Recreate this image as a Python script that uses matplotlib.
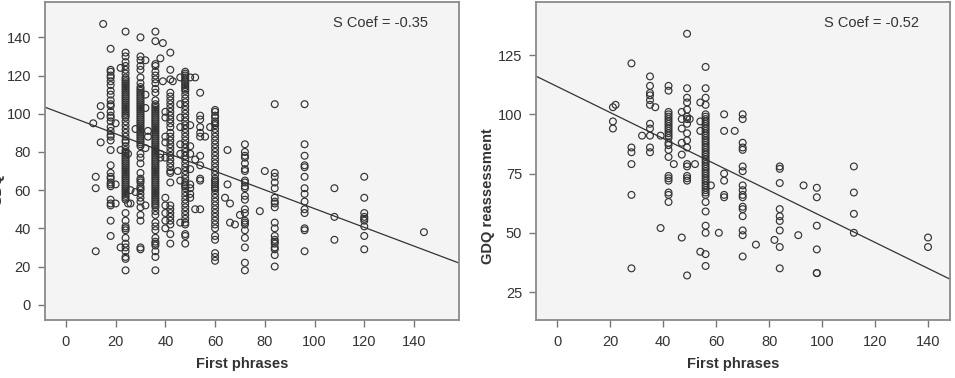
import matplotlib
matplotlib.use("Agg")
import matplotlib.pyplot as plt

plt.rcParams['font.family'] = ['Liberation Sans', 'DejaVu Sans']

# ---------------- Left panel data: GDQ vs First phrases ----------------
L11 = [95]
L12 = [67, 61, 28]
L14 = [99, 104, 85]
L15 = [147]
L18 = [134, 123, 122, 120, 119, 117, 115, 112, 110, 107, 105, 104, 101, 99, 98, 96, 93, 91,
       89, 88, 86, 81, 73, 69, 67, 66, 64, 63, 62, 55, 53, 52, 44, 36]
L20 = [95, 63, 53]
L22 = [124, 81, 30]
L24 = [143, 132, 130, 127, 125, 123, 121, 119, 118, 117, 116, 115, 114, 113, 112, 111, 110, 109,
       108, 107, 106, 105, 104, 103, 102, 101, 100, 99, 98, 96, 94, 92, 90, 88, 86, 85, 83, 81,
       80, 79, 78, 77, 76, 75, 74, 73, 72, 71, 70, 69, 68, 67, 66, 65, 64, 63, 62, 61, 60, 59,
       58, 57, 56, 55, 48, 44, 41, 40, 39, 35, 32, 30, 28, 25, 24, 18]
L25 = [79, 53]
L26 = [60, 53]
L28 = [92, 59]
L30 = [140, 130, 128, 125, 123, 119, 116, 114, 113, 112, 111, 110, 109, 108, 107, 106, 105, 104,
       103, 102, 101, 100, 99, 98, 97, 96, 95, 94, 93, 92, 91, 90, 89, 88, 87, 86, 85, 84, 83,
       79, 77, 74, 69, 66, 65, 64, 62, 61, 60, 58, 56, 54, 51, 47, 44, 30, 29]
L32 = [128, 110, 103, 82, 52]
L33 = [91, 88]
L36 = [143, 138, 126, 125, 122, 120, 118, 116, 113, 111, 107, 105, 104, 103, 102, 101, 100, 99,
       98, 97, 96, 95, 94, 93, 92, 91, 90, 89, 88, 87, 86, 85, 84, 83, 82, 81, 80, 79, 78, 77,
       76, 75, 74, 73, 72, 71, 70, 69, 68, 67, 66, 65, 64, 63, 62, 61, 60, 59, 58, 57, 56, 55,
       54, 53, 52, 51, 49, 47, 43, 41, 39, 35, 33, 32, 31, 28, 25, 18]
L38 = [129, 79, 77]
L39 = [137, 117]
L40 = [101, 98, 88, 85, 77, 56, 52, 48, 44, 40]
L42 = [132, 123, 118, 111, 109, 107, 105, 103, 101, 99, 97, 95, 93, 90, 88, 86, 84, 82, 80, 78,
       76, 74, 72, 70, 69, 64, 52, 50, 48, 46, 44, 42, 37, 32]
L43 = [117]
L45 = [70]
L46 = [119, 105, 98, 93, 84, 79, 65, 43]
L48 = [122, 121, 120, 119, 118, 117, 116, 115, 114, 113, 112, 110, 108, 106, 104, 102, 100, 98,
       96, 94, 92, 90, 88, 86, 84, 82, 80, 78, 76, 74, 72, 70, 68, 66, 64, 63, 62, 61, 59, 57,
       55, 53, 51, 49, 47, 45, 43, 42, 37, 36, 32]
L50 = [119, 94, 83, 79, 71, 63, 61, 58, 56]
L52 = [119, 76, 50]
L54 = [111, 99, 97, 93, 90, 88, 78, 73, 66, 65, 50]
L56 = [88]
L58 = [93]
L60 = [102, 101, 99, 98, 96, 95, 94, 92, 90, 88, 86, 84, 82, 80, 78, 76, 74, 72, 70, 68, 66,
       65, 64, 63, 62, 61, 60, 58, 56, 54, 52, 50, 48, 46, 44, 42, 40, 36, 34, 27, 25, 23]
L64 = [56]
L65 = [81, 63]
L66 = [53, 43]
L68 = [42]
L70 = [47]
L72 = [84, 80, 78, 77, 74, 71, 70, 65, 64, 62, 61, 57, 55, 50, 48, 44, 43, 42, 39, 35, 30, 22, 18]
L78 = [49]
L80 = [70]
L84 = [105, 69, 67, 64, 61, 56, 54, 53, 51, 43, 40, 36, 34, 33, 32, 30, 29, 26, 20]
L96 = [105, 84, 78, 73, 72, 67, 61, 58, 54, 50, 48, 40, 39, 28]
L108 = [61, 46, 34]
L120 = [67, 56, 48, 46, 45, 44, 41, 36, 29]
L144 = [38]

left_columns = [(11, L11), (12, L12), (14, L14), (15, L15), (18, L18), (20, L20), (22, L22),
                (24, L24), (25, L25), (26, L26), (28, L28), (30, L30), (32, L32), (33, L33),
                (36, L36), (38, L38), (39, L39), (40, L40), (42, L42), (43, L43), (45, L45),
                (46, L46), (48, L48), (50, L50), (52, L52), (54, L54), (56, L56), (58, L58),
                (60, L60), (64, L64), (65, L65), (66, L66), (68, L68), (70, L70), (72, L72),
                (78, L78), (80, L80), (84, L84), (96, L96), (108, L108), (120, L120), (144, L144)]

left_fit_intercept = 99.3
left_fit_slope = -0.49
left_coef_text = "S Coef = -0.35"

# ---------------- Right panel data: GDQ reassessment vs First phrases ----------------
R21 = [103, 97, 94]
R22 = [104]
R28 = [121.5, 86, 84, 79, 66, 35]
R32 = [91]
R35 = [116, 112, 109, 108, 106, 104, 96, 94, 91, 86, 84]
R37 = [103]
R39 = [91, 52]
R42 = [112, 110, 101, 100, 99, 98, 97, 96, 95, 94, 93, 92, 91, 90, 88, 87, 85, 82, 74, 73, 72,
       67, 66, 63]
R44 = [79]
R47 = [101, 98, 94, 88, 83, 48]
R49 = [134, 111, 107, 105, 102, 99, 98, 96, 92, 89, 86, 79, 78, 74, 73, 72, 32]
R50 = [98]
R52 = [79]
R54 = [105, 97, 93, 42]
R56 = [120, 111, 107, 104, 100, 99, 98, 97, 96, 95, 94, 93, 92, 91, 90, 89, 88, 87, 86, 85, 84,
       83, 82, 81, 80, 79, 78, 77, 76, 75, 74, 73, 72, 71, 70, 69, 68, 67, 66, 63, 59, 53, 50,
       41, 36]
R58 = [70]
R61 = [50]
R63 = [100, 93, 75, 72, 66, 65]
R67 = [93]
R70 = [100, 98, 88, 86, 85, 78, 76, 70, 68, 66, 65, 61, 60, 57, 51, 49, 40]
R75 = [45]
R82 = [47]
R84 = [78, 77, 71, 60, 57, 55, 51, 44, 35]
R91 = [49]
R93 = [70]
R98 = [69, 65, 53, 43, 33, 33]
R112 = [78, 67, 58, 50]
R140 = [48, 44]

right_columns = [(21, R21), (22, R22), (28, R28), (32, R32), (35, R35), (37, R37), (39, R39),
                 (42, R42), (44, R44), (47, R47), (49, R49), (50, R50), (52, R52), (54, R54),
                 (56, R56), (58, R58), (61, R61), (63, R63), (67, R67), (70, R70), (75, R75),
                 (82, R82), (84, R84), (91, R91), (93, R93), (98, R98), (112, R112), (140, R140)]

right_fit_intercept = 111.7
right_fit_slope = -0.548
right_coef_text = "S Coef = -0.52"

x_label = "First phrases"
left_ylabel = "GDQ"
right_ylabel = "GDQ reassessment"
x_ticks = [0, 20, 40, 60, 80, 100, 120, 140]
left_yticks = [0, 20, 40, 60, 80, 100, 120, 140]
right_yticks = [25, 50, 75, 100, 125]


def flatten(cols):
    xs, ys = [], []
    for xv, yl in cols:
        for yv in yl:
            xs.append(xv)
            ys.append(yv)
    return xs, ys


W, H = 955, 378
fig = plt.figure(figsize=(W / 100, H / 100), dpi=100)
fig.patch.set_facecolor('white')

ax1 = fig.add_axes([45 / W, (H - 320) / H, 414 / W, 318 / H])
ax2 = fig.add_axes([536 / W, (H - 320) / H, 414 / W, 318 / H])

panels = [
    (ax1, left_columns, left_fit_intercept, left_fit_slope, left_coef_text, left_ylabel,
     left_yticks, (-8.4, 158.1), (-8.0, 158.5), 0.41),
    (ax2, right_columns, right_fit_intercept, right_fit_slope, right_coef_text, right_ylabel,
     right_yticks, (-8.05, 148.3), (13.2, 147.4), 0.39),
]

for ax, cols, b, m, coef, ylab, yt, xl, yl, ylab_y in panels:
    xs, ys = flatten(cols)
    ax.set_facecolor('#f4f4f4')
    ax.scatter(xs, ys, s=24, facecolors='none', edgecolors='#333333', linewidths=0.85, zorder=3)
    ax.axline((0, b), slope=m, color='#333333', linewidth=0.9, zorder=2)
    ax.set_xlim(*xl)
    ax.set_ylim(*yl)
    ax.set_xticks(x_ticks)
    ax.set_yticks(yt)
    for sp in ax.spines.values():
        sp.set_color('#8a8a8a')
        sp.set_linewidth(1.3)
    ax.tick_params(axis='both', direction='out', length=5, width=1.0, color='#777777',
                   labelcolor='#333333', labelsize=10.5)
    ax.tick_params(axis='x', pad=6)
    ax.tick_params(axis='y', pad=5)
    ax.set_xlabel(x_label, fontsize=10.5, fontweight='bold', color='#333333')
    ax.xaxis.set_label_coords(0.476, -0.116)
    ax.set_ylabel(ylab, fontsize=10.5, fontweight='bold', color='#333333')
    ax.yaxis.set_label_coords(-0.098, ylab_y)
    ax.text(0.925, 0.934, coef, transform=ax.transAxes, ha='right', va='center',
            fontsize=10.5, color='#333333')

fig.savefig('out.png', dpi=100)
